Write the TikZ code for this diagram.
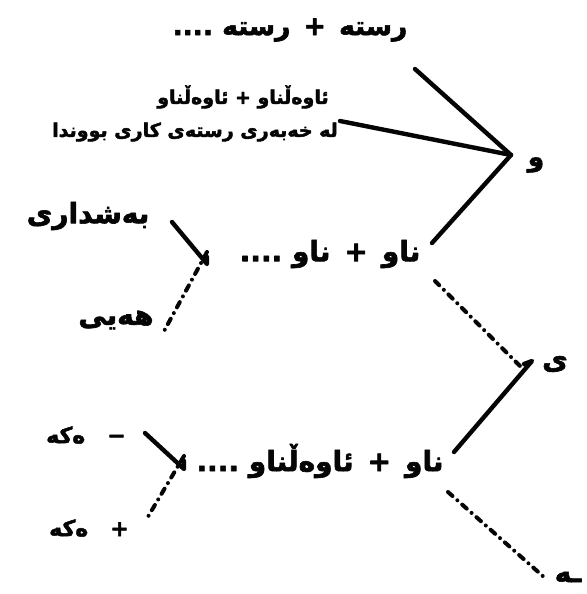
\documentclass[tikz,border=0pt]{standalone}
\usepackage{fontspec}
\TeXXeTstate=1
\newfontfamily\arabicfont[Script=Arabic,FakeBold=2.2]{DejaVu Sans Bold}
\definecolor{TreeInk}{gray}{0.02}
\tikzset{
    tree/diagram/.style={
        draw=TreeInk,
        text=TreeInk,
        line cap=round,
        line join=round,
        every node/.style={inner sep=1pt, outer sep=0pt}
    },
    tree/word/.style={font=\arabicfont\fontsize{28}{32}\selectfont},
    tree/big/.style={font=\arabicfont\fontsize{26.5}{30}\selectfont},
    tree/small/.style={font=\arabicfont\fontsize{19}{22}\selectfont},
    tree/suffix/.style={font=\arabicfont\fontsize{22}{26}\selectfont},
    tree/branch/.style={draw=TreeInk, line width=4.4pt},
    tree/option/.style={
        draw=TreeInk, line width=4pt,
        dash pattern=on 6pt off 6.5pt on 0pt off 6.5pt
    }
}
\begin{document}
\begin{tikzpicture}[tree/diagram, x=1pt, y=-1pt]
    \useasboundingbox (0,0) rectangle (586,594);
    % first group: joined with waw
    \node[tree/big]   (rstaPair) at (290,30)  {\beginR رستە\enspace +\enspace رستە ....\endR};
    \node[tree/small] (adjPair)  at (243,97)  {\beginR ئاوەڵناو + ئاوەڵناو\endR};
    \node[tree/small] (predic)   at (195,132) {\beginR لە خەبەری رستەی کاری بووندا\endR};
    \node[tree/big]   (waw)      at (536,165) {\beginR و\endR};
    \coordinate (wawJoin) at (511,155);
    \coordinate (rstaEnd) at (415,69);
    \coordinate (predEnd) at (340,121);
    \coordinate (nawEnd)  at (432,243);
    \draw[tree/branch] (rstaEnd) -- (wawJoin);
    \draw[tree/branch] (predEnd) -- (wawJoin);
    \draw[tree/branch] (wawJoin) -- (nawEnd);
    % second group: noun + noun
    \node[tree/word] (nawNaw) at (330,254) {\beginR ناو\enspace +\enspace ناو ....\endR};
    \node[tree/word] (part)   at (88,216)  {\beginR بەشداری\endR};
    \node[tree/word] (heyi)   at (116,320) {\beginR هەیی\endR};
    \coordinate (partEnd) at (172,222);
    \coordinate (nawTip)  at (207,264);
    \coordinate (heyiEnd) at (163,333);
    \draw[tree/branch] (partEnd) -- (nawTip) -- ([yshift=7pt]nawTip);
    \draw[tree/option] ([yshift=12pt]nawTip) -- (heyiEnd);
    % ye joins the two noun groups
    \node[tree/word] (ye) at (555,364) {\beginR ی\endR};
    \coordinate (yeJoin)  at (532,361);
    \coordinate (nawOut)  at (435,281);
    \coordinate (adjOut)  at (454,452);
    \draw[tree/option] (nawOut) -- ([xshift=-12pt,yshift=-5pt]yeJoin);
    \draw[tree/branch] ([xshift=-8pt,yshift=-3pt]yeJoin) -- (yeJoin) -- (adjOut);
    % third group: noun + adjective
    \node[tree/word]   (nawAdj)   at (320,461) {\beginR ناو\enspace +\enspace ئاوەڵناو ....\endR};
    \node[tree/suffix] (akaMinus) at (86,435)  {\beginR −\quad ەکە\endR};
    \node[tree/suffix] (akaPlus)  at (89,528)  {\beginR +\quad ەکە\endR};
    \coordinate (minusEnd) at (145,433);
    \coordinate (adjTip)   at (184,469);
    \coordinate (plusEnd)  at (146,520);
    \draw[tree/branch] (minusEnd) -- (adjTip) -- ([yshift=8pt]adjTip);
    \draw[tree/option] ([yshift=13pt]adjTip) -- (plusEnd);
    \node[tree/word] (ae) at (568,577) {\beginR ـە\endR};
    \coordinate (adjLow) at (448,492);
    \coordinate (aeEnd)  at (545,578);
    \draw[tree/option] (adjLow) -- (aeEnd);
\end{tikzpicture}
\end{document}
